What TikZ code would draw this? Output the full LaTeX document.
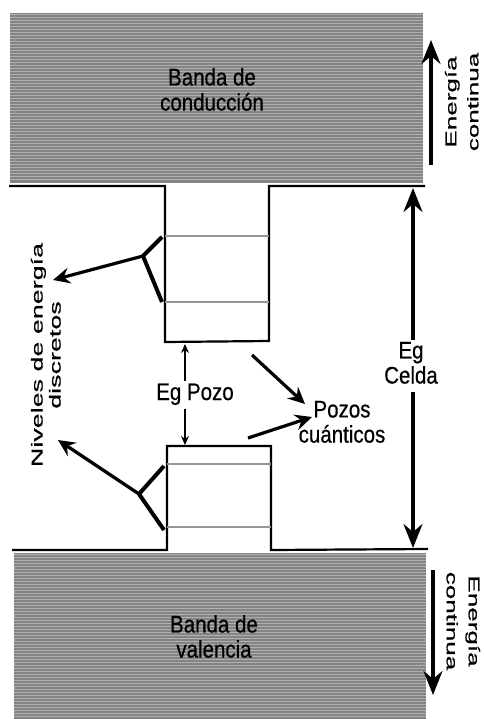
\documentclass[tikz,border=0pt]{standalone}
\usepackage{fontspec}
\setmainfont{Liberation Sans}[FakeBold=0.6]
\usepackage{graphicx}
\usepackage{tikz}
\usetikzlibrary{arrows.meta,positioning,calc}
\definecolor{bandgray}{RGB}{132,132,132}
\definecolor{stripegray}{RGB}{176,176,176}
\definecolor{levelgray}{RGB}{150,150,150}
\newcommand{\tallbox}[1]{\scalebox{1}[1.17]{\begin{tabular}{@{}c@{}}#1\end{tabular}}}
\newcommand{\longbox}[1]{\scalebox{1.68}[1]{\begin{tabular}{@{}c@{}}#1\end{tabular}}}

\begin{document}
\begin{tikzpicture}[x=1pt, y=-1pt,
    band/.style={fill=bandgray, draw=none},
    stripe/.style={draw=stripegray, line width=1.1pt},
    edge/.style={line width=2.2pt, line join=miter},
    level/.style={draw=levelgray, line width=2pt},
    lbl/.style={inner sep=1pt, font=\fontsize{20.5}{21.4}\selectfont},
    side/.style={inner sep=1pt, font=\fontsize{15.5}{22}\selectfont},
    big/.style={-{Stealth[length=24pt, width=19pt, inset=8pt]}, line width=3.5pt},
    mid/.style={-{Stealth[length=17pt, width=16pt, inset=6pt]}, line width=3.2pt},
    fork/.style={line width=4pt, line join=round},
    thin/.style={-{Stealth[length=9pt, width=8pt, inset=3pt]}, line width=1.8pt}
]
\useasboundingbox (0,0) rectangle (483,719);

\fill[band] (10,13) rectangle (423,183);
\foreach \yy in {14.5,17.5,...,182} \draw[stripe] (10,\yy) -- (423,\yy);
\fill[band] (14,553) rectangle (426,719);
\foreach \yy in {554.5,557.5,...,718} \draw[stripe] (14,\yy) -- (426,\yy);

\draw[edge] (9,186) -- (165,186) -- (165,342) -- (269,341) -- (269,186) -- (425,186);
\draw[edge] (12,550) -- (167,550) -- (167,446) -- (271,446) -- (271,550) -- (428,549);

\draw[level] (165,236) -- (269,236);
\draw[level] (165,302) -- (269,302);
\draw[level] (167,464) -- (271,464);
\draw[level] (167,527) -- (271,527);

\node[lbl] (cb)  at (212,93)  {\tallbox{Banda de\\conducción}};
\node[lbl] (vb)  at (214,640) {\tallbox{Banda de\\valencia}};
\node[lbl] (egc) at (411,366) {\tallbox{Eg\\Celda}};
\node[lbl] (egp) at (195,395) {\tallbox{Eg Pozo}};
\node[lbl] (qw)  at (342,425) {\tallbox{Pozos\\cuánticos}};
\node[side, rotate=90]  (ectop) at (463,102) {\longbox{Energía\\continua}};
\node[side, rotate=-90] (ecbot) at (462,621) {\longbox{Energía\\continua}};
\node[side, rotate=90, font=\fontsize{16}{18}\selectfont] (niv) at (48,355) {\longbox{Niveles de energía\\discretos}};

\coordinate (ectopB) at (431,165);
\coordinate (ectopT) at (431,40);
\coordinate (ecbotT) at (433,570);
\coordinate (ecbotB) at (433,695);
\draw[big] (ectopB) -- (ectopT);
\draw[big] (ecbotT) -- (ecbotB);

\coordinate (egcT) at (413,188);
\coordinate (egcB) at (413,548);
\draw[big] (egc.north -| egcT) -- (egcT);
\draw[big] (egc.south -| egcB) -- (egcB);

\coordinate (egpT) at (185,344);
\coordinate (egpB) at (185,445);
\draw[thin] (egp.north -| egpT) -- (egpT);
\draw[thin] (egp.south -| egpB) -- (egpB);

\coordinate (qwA) at (252,355);
\coordinate (qwB) at (248,438);
\coordinate (qwtipA) at (305,404);
\coordinate (qwtipB) at (312,417);
\draw[mid] (qwA) -- (qwtipA);
\draw[mid] (qwB) -- (qwtipB);

\coordinate (fu)  at (143,256);
\coordinate (fuA) at (162,237);
\coordinate (fuB) at (162,302);
\coordinate (nivU) at (53,280);
\draw[fork] (fuA) -- (fu) -- (fuB);
\draw[mid] (fu) -- (nivU);

\coordinate (fl)  at (139,494);
\coordinate (flA) at (164,466);
\coordinate (flB) at (164,530);
\coordinate (nivL) at (58,440);
\draw[fork] (flA) -- (fl) -- (flB);
\draw[mid] (fl) -- (nivL);
\end{tikzpicture}
\end{document}
